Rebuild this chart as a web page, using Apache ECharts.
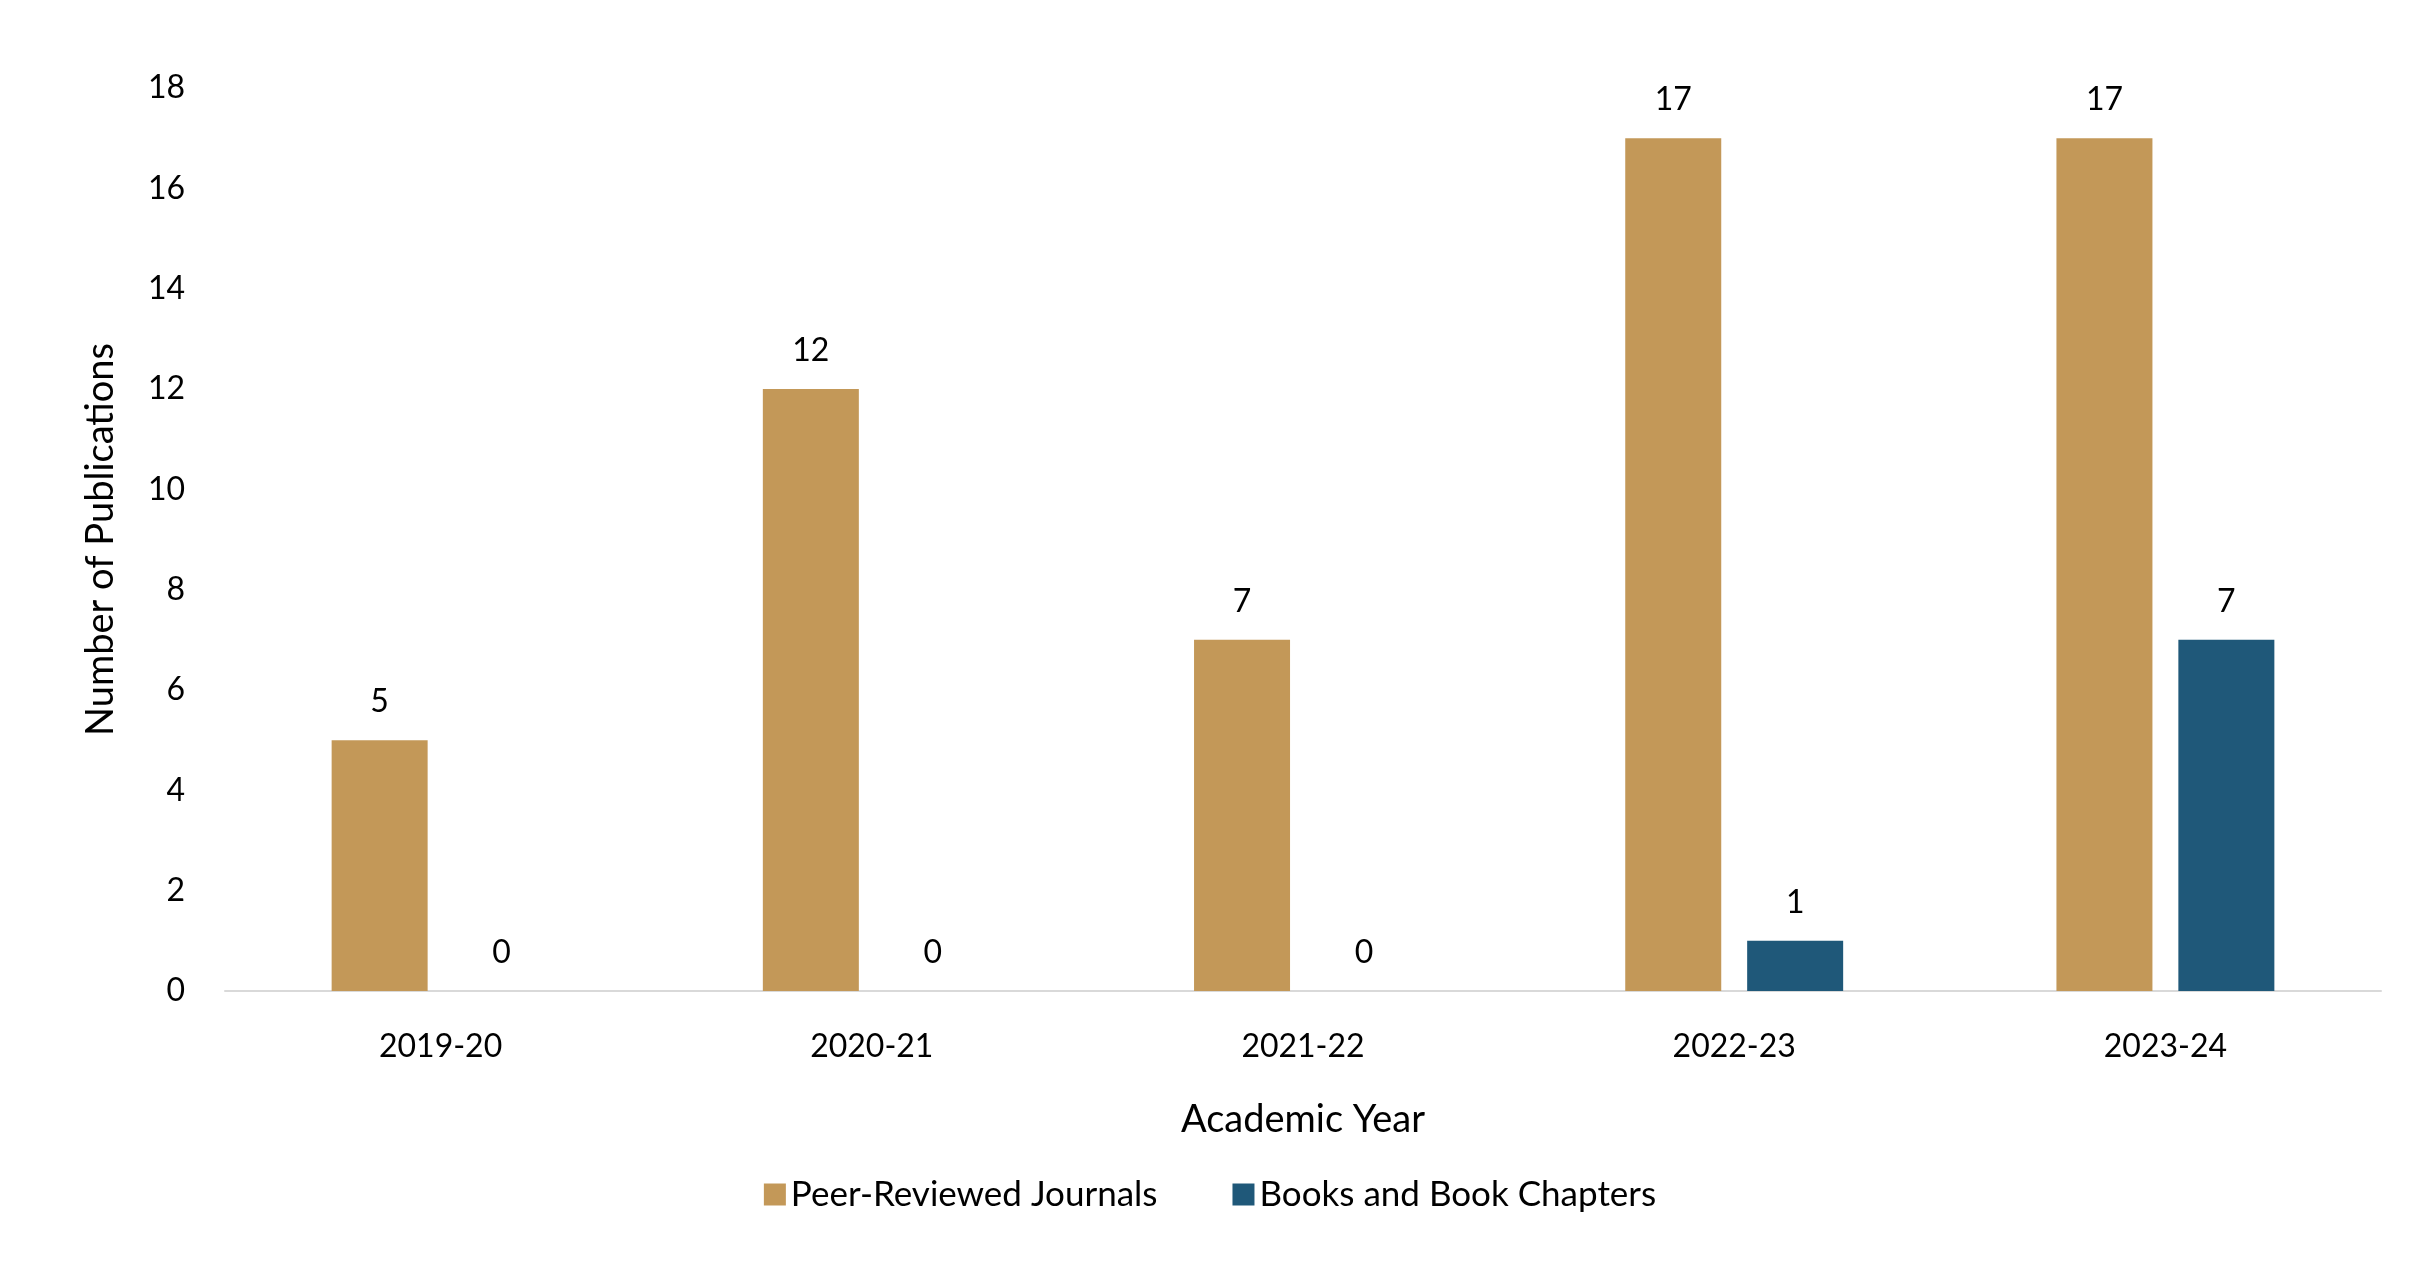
<!DOCTYPE html>
<html>
<head>
<meta charset="utf-8">
<script src="https://cdn.jsdelivr.net/npm/echarts@6/dist/echarts.min.js"></script>
<style>html,body{margin:0;padding:0;background:#fff}#main{width:2420px;height:1265px}</style>
</head>
<body>
<div id="main"></div>
<script>
var years = ['2019-20', '2020-21', '2021-22', '2022-23', '2023-24'];
var journals = [5, 12, 7, 17, 17];
var books = [0, 0, 0, 1, 7];
var fontName = 'Lato';

var myChart = echarts.init(document.getElementById('main'));
var option = {
    textStyle: { fontFamily: fontName, color: '#000' },
    grid: { left: 225, right: 39, top: 88, bottom: 274 },
    legend: {
        bottom: 48,
        left: 'center',
        itemWidth: 22,
        itemHeight: 22,
        itemGap: 75,
        icon: 'rect',
        textStyle: { fontSize: 35, fontFamily: fontName, color: '#000' },
        data: ['Peer-Reviewed Journals', 'Books and Book Chapters']
    },
    xAxis: {
        type: 'category',
        data: years,
        name: 'Academic Year',
        nameLocation: 'middle',
        nameGap: 110,
        nameTextStyle: { fontSize: 38, color: '#000' },
        axisLine: { lineStyle: { color: '#d9d9d9', width: 2 } },
        axisTick: { show: false },
        axisLabel: { fontSize: 32, color: '#000', margin: 40 }
    },
    yAxis: {
        type: 'value',
        min: 0,
        max: 18,
        interval: 2,
        name: 'Number of Publications',
        nameLocation: 'middle',
        nameGap: 105,
        nameTextStyle: { fontSize: 38, color: '#000' },
        splitLine: { show: false },
        axisLine: { show: false },
        axisTick: { show: false },
        axisLabel: { fontSize: 32, color: '#000', margin: 40 }
    },
    series: [
        {
            name: 'Peer-Reviewed Journals',
            type: 'bar',
            data: journals,
            barWidth: 96,
            barGap: '27%',
            itemStyle: { color: '#C39858' },
            label: { show: true, position: 'top', distance: 22, fontSize: 32, color: '#000' }
        },
        {
            name: 'Books and Book Chapters',
            type: 'bar',
            data: books,
            barWidth: 96,
            itemStyle: { color: '#1F5879' },
            label: { show: true, position: 'top', distance: 22, fontSize: 32, color: '#000' }
        }
    ]
};
myChart.setOption(option);
</script>
</body>
</html>
